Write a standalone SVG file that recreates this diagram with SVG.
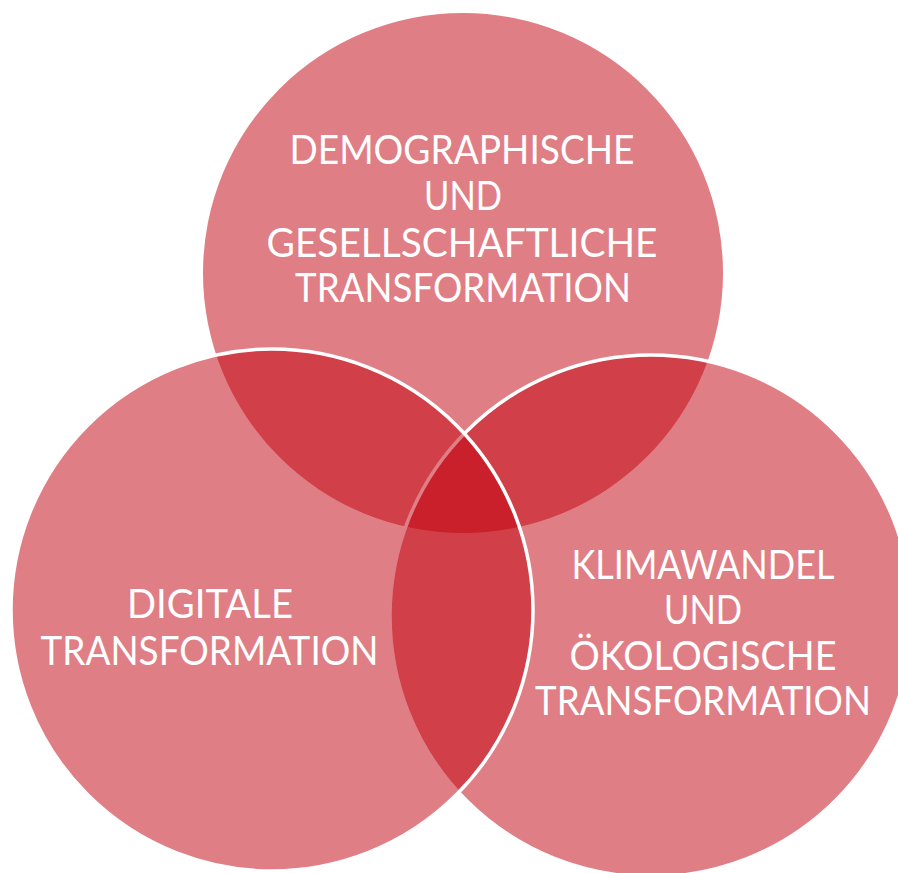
<svg xmlns="http://www.w3.org/2000/svg" width="898" height="873" viewBox="0 0 898 873">
  <style>
    .ring { fill: rgb(195,2,16); fill-opacity: 0.51; }
    .ring.edged { stroke: #ffffff; stroke-width: 3.5; }
    .label { font-family: Lato, "Open Sans", "Liberation Sans", sans-serif; font-size: 40px; fill: #ffffff; text-anchor: middle; }
  </style>
  <rect width="898" height="873" fill="#ffffff"/>

  <!-- three overlapping translucent circles; overlaps darken naturally -->
  <g id="node-demographie">
    <circle class="ring" cx="463" cy="273" r="260"/>
    <text class="label" x="462" y="163.5" textLength="345" lengthAdjust="spacingAndGlyphs">DEMOGRAPHISCHE</text>
    <text class="label" x="463" y="210" textLength="78" lengthAdjust="spacingAndGlyphs">UND</text>
    <text class="label" x="462" y="256.5" textLength="391" lengthAdjust="spacingAndGlyphs">GESELLSCHAFTLICHE</text>
    <text class="label" x="463" y="302" textLength="336" lengthAdjust="spacingAndGlyphs">TRANSFORMATION</text>
  </g>

  <g id="node-klima">
    <circle class="ring edged" cx="651" cy="616" r="261"/>
    <text class="label" x="703" y="578.5" textLength="263" lengthAdjust="spacingAndGlyphs">KLIMAWANDEL</text>
    <text class="label" x="703" y="623.5" textLength="78" lengthAdjust="spacingAndGlyphs">UND</text>
    <text class="label" x="703" y="670" textLength="267" lengthAdjust="spacingAndGlyphs">ÖKOLOGISCHE</text>
    <text class="label" x="703" y="715" textLength="336" lengthAdjust="spacingAndGlyphs">TRANSFORMATION</text>
  </g>

  <g id="node-digital">
    <circle class="ring edged" cx="272" cy="610" r="261"/>
    <text class="label" x="210" y="618" textLength="166" lengthAdjust="spacingAndGlyphs">DIGITALE</text>
    <text class="label" x="209.5" y="665" textLength="338" lengthAdjust="spacingAndGlyphs">TRANSFORMATION</text>
  </g>

  <g id="connectors"/>
</svg>
